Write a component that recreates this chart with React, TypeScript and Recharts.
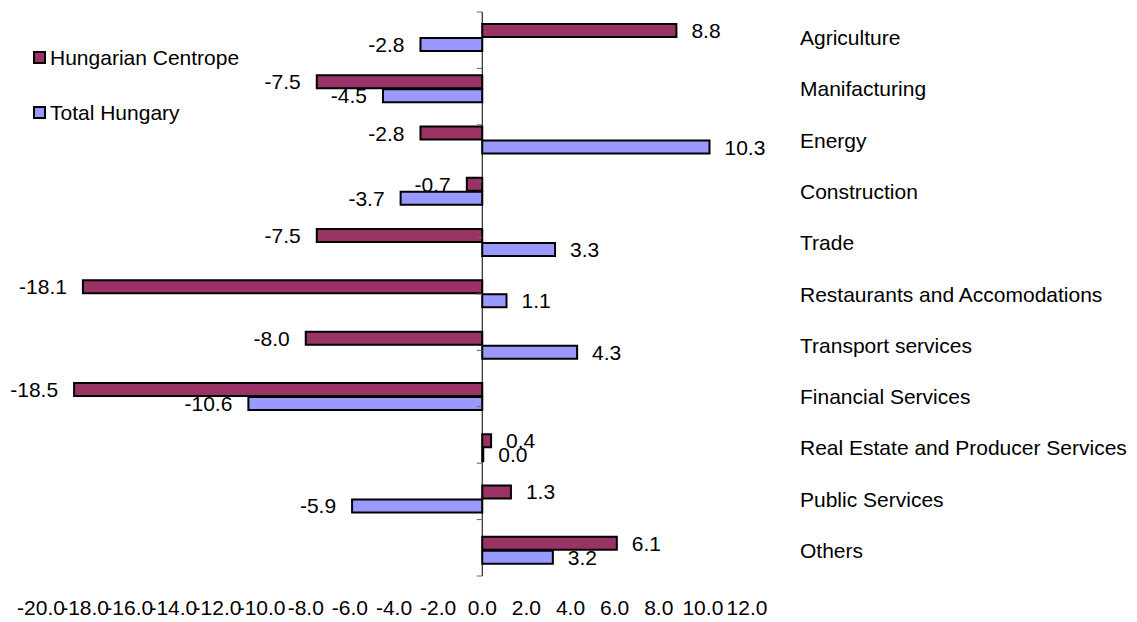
import React from 'react';
import {
  BarChart,
  Bar,
  XAxis,
  YAxis,
  Legend,
  LabelList,
  ReferenceLine,
} from 'recharts';

const categories = [
  'Agriculture',
  'Manifacturing',
  'Energy',
  'Construction',
  'Trade',
  'Restaurants and Accomodations',
  'Transport services',
  'Financial Services',
  'Real Estate and Producer Services',
  'Public Services',
  'Others',
];
const centrope = [8.8, -7.5, -2.8, -0.7, -7.5, -18.1, -8.0, -18.5, 0.4, 1.3, 6.1];
const hungary = [-2.8, -4.5, 10.3, -3.7, 3.3, 1.1, 4.3, -10.6, 0.0, -5.9, 3.2];
const xTicks = [-20, -18, -16, -14, -12, -10, -8, -6, -4, -2, 0, 2, 4, 6, 8, 10, 12];

const data = categories.map((name, i) => ({
  name,
  centrope: centrope[i],
  hungary: hungary[i],
}));

const boundaries = categories.map((_, i) => i).concat(categories.length);

const FONT = '"Liberation Sans", Arial, sans-serif';
const FS = 21;

const ValueLabel = (props: any) => {
  const { x, y, width, height, value } = props;
  const left = Math.min(x, x + width);
  const right = Math.max(x, x + width);
  const pos = value >= 0;
  return (
    <text
      x={pos ? right + 15 : left - 16}
      y={y + height / 2}
      textAnchor={pos ? 'start' : 'end'}
      dominantBaseline="central"
      fontSize={FS}
      fontFamily={FONT}
      fill="#000"
    >
      {Number(value).toFixed(1)}
    </text>
  );
};

const CategoryTick = (props: any) => {
  const { x, y, payload } = props;
  return (
    <text
      x={x + 53}
      y={y}
      textAnchor="start"
      dominantBaseline="central"
      fontSize={FS}
      fontFamily={FONT}
      fill="#000"
    >
      {payload.value}
    </text>
  );
};

const LegendContent = (props: any) => {
  const { payload } = props;
  return (
    <div style={{ fontFamily: FONT, fontSize: FS, color: '#000' }}>
      {payload.map((p: any) => (
        <div key={p.value} style={{ height: 55, display: 'flex', alignItems: 'center' }}>
          <span
            style={{
              display: 'inline-block',
              width: 9,
              height: 9,
              background: p.color,
              border: '2px solid #000',
              marginRight: 4,
            }}
          />
          {p.value}
        </div>
      ))}
    </div>
  );
};

export default function App() {
  return (
    <div style={{ width: 1137, height: 622, background: '#fff' }}>
      <style>{`body{margin:0}`}</style>
      <BarChart
        width={1137}
        height={622}
        data={data}
        layout="vertical"
        margin={{ top: 12, right: 0, bottom: 0, left: 41 }}
        barSize={13}
        barGap={1}
      >
        <XAxis
          type="number"
          domain={[-20, 12]}
          ticks={xTicks}
          tickFormatter={(v: number) => v.toFixed(1)}
          axisLine={false}
          tickLine={false}
          tickSize={0}
          tickMargin={24}
          height={46}
          interval={0}
          tick={{ fill: '#000', fontSize: FS, fontFamily: FONT }}
        />
        <YAxis
          type="category"
          dataKey="name"
          orientation="right"
          width={390}
          axisLine={false}
          tickLine={false}
          tickSize={0}
          tickMargin={0}
          interval={0}
          tick={<CategoryTick />}
        />
        <YAxis yAxisId="grid" type="number" domain={[0, categories.length]} hide />
        <Legend
          layout="vertical"
          align="center"
          verticalAlign="middle"
          wrapperStyle={{ top: 30, left: 33, width: 'auto' }}
          content={<LegendContent />}
        />
        <Bar
          dataKey="centrope"
          name="Hungarian Centrope"
          fill="#993366"
          stroke="#000"
          strokeWidth={2}
          isAnimationActive={false}
        >
          <LabelList dataKey="centrope" content={<ValueLabel />} />
        </Bar>
        <Bar
          dataKey="hungary"
          name="Total Hungary"
          fill="#9999FF"
          stroke="#000"
          strokeWidth={2}
          minPointSize={1}
          isAnimationActive={false}
        >
          <LabelList dataKey="hungary" content={<ValueLabel />} />
        </Bar>
        <ReferenceLine x={0} stroke="#000" strokeWidth={1} />
        {boundaries.map((b) => (
          <ReferenceLine
            key={b}
            yAxisId="grid"
            segment={[
              { x: -0.25, y: b },
              { x: 0, y: b },
            ]}
            stroke="#666"
            strokeWidth={1}
          />
        ))}
      </BarChart>
    </div>
  );
}
